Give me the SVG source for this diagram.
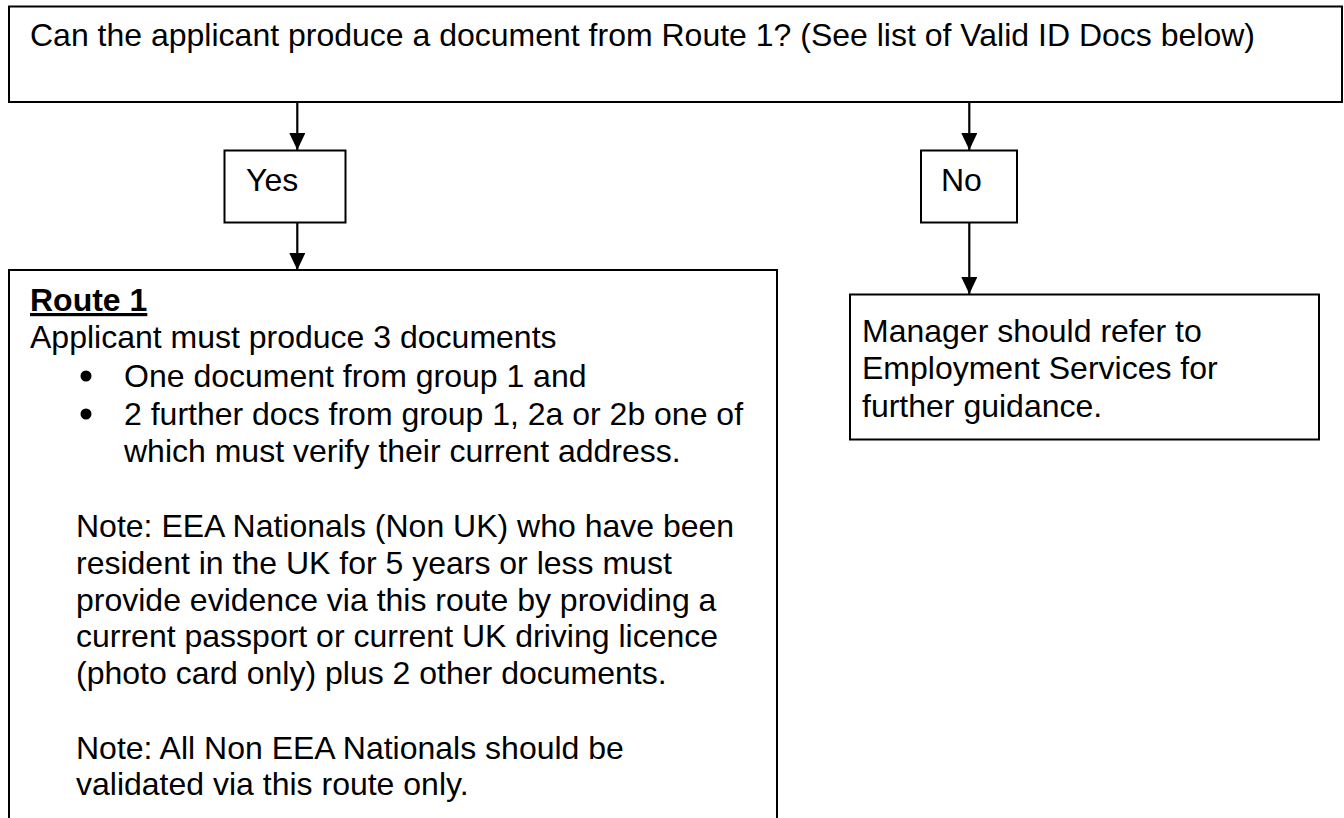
<svg xmlns="http://www.w3.org/2000/svg" width="1344" height="818" viewBox="0 0 1344 818">
<style>
.box{fill:#fff;stroke:#000;stroke-width:2}
.t{font-family:"Liberation Sans",Arial,sans-serif;font-size:32px;fill:#000}
.b{font-weight:bold;text-decoration:underline}
.conn{stroke:#000;stroke-width:2.2;fill:none}
</style>
<defs>
<marker id="ah" markerUnits="userSpaceOnUse" markerWidth="17" markerHeight="16" refX="17" refY="8" orient="auto" viewBox="0 0 17 16">
<path d="M0,0 L17,8 L0,16 Z" fill="#000"/>
</marker>
</defs>
<rect width="1344" height="818" fill="#fff"/>
<g id="question">
<rect class="box" x="9" y="6.5" width="1333" height="95.5"/>
<text class="t" x="30" y="46">Can the applicant produce a document from Route 1? (See list of Valid ID Docs below)</text>
</g>
<g id="yes">
<rect class="box" x="224.5" y="150.5" width="121" height="72"/>
<text class="t" x="246" y="191">Yes</text>
</g>
<g id="no">
<rect class="box" x="921" y="150.5" width="96" height="72"/>
<text class="t" x="941" y="191">No</text>
</g>
<g id="route1">
<rect class="box" x="9" y="270" width="768" height="560"/>
<text class="t b" x="30" y="311">Route 1</text>
<text class="t" x="30" y="348">Applicant must produce 3 documents</text>
<circle cx="86" cy="376" r="5.5" fill="#000"/>
<text class="t" x="124" y="387">One document from group 1 and</text>
<circle cx="86" cy="414" r="5.5" fill="#000"/>
<text class="t" x="124" y="425">2 further docs from group 1, 2a or 2b one of</text>
<text class="t" x="124" y="462">which must verify their current address.</text>
<text class="t" x="76" y="537">Note: EEA Nationals (Non UK) who have been</text>
<text class="t" x="76" y="574">resident in the UK for 5 years or less must</text>
<text class="t" x="76" y="611">provide evidence via this route by providing a</text>
<text class="t" x="76" y="647">current passport or current UK driving licence</text>
<text class="t" x="76" y="684">(photo card only) plus 2 other documents.</text>
<text class="t" x="76" y="759">Note: All Non EEA Nationals should be</text>
<text class="t" x="76" y="795">validated via this route only.</text>
</g>
<g id="manager">
<rect class="box" x="850" y="294.5" width="469" height="145"/>
<text class="t" x="862" y="342">Manager should refer to</text>
<text class="t" x="862" y="379">Employment Services for</text>
<text class="t" x="862" y="417">further guidance.</text>
</g>
<g id="connectors">
<line class="conn" x1="297.3" y1="102" x2="297.3" y2="150" marker-end="url(#ah)"/>
<line class="conn" x1="297.3" y1="222.5" x2="297.3" y2="270" marker-end="url(#ah)"/>
<line class="conn" x1="969.3" y1="102" x2="969.3" y2="150" marker-end="url(#ah)"/>
<line class="conn" x1="969.3" y1="222.5" x2="969.3" y2="294" marker-end="url(#ah)"/>
</g>
</svg>
